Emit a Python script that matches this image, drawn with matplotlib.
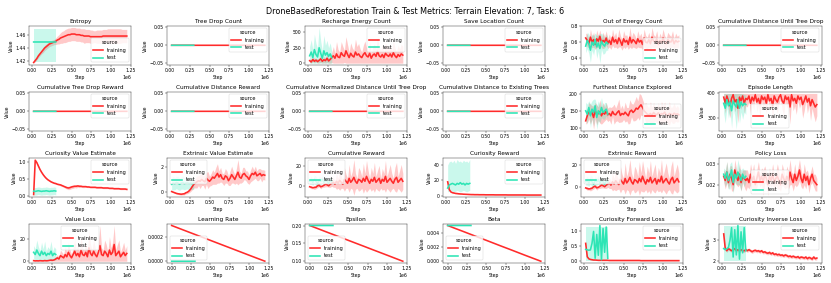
import numpy as np
import matplotlib
matplotlib.use("Agg")
import matplotlib.pyplot as plt

# logging steps
TRAIN_STEPS = np.arange(1, 61) * 20000
TEST_STEPS = np.arange(1, 16) * 20000
SCHED_TRAIN_STEPS = np.arange(0, 13) * 100000
SCHED_TEST_STEPS = np.arange(0, 4) * 100000

TRAIN_COLOR = "#ff2b2b"
TEST_COLOR = "#2ee5b5"

zero_train = [0.0] * 60
zero_test = [0.0] * 15

# Entropy
entropy_train = [1.418, 1.421, 1.424, 1.428, 1.431, 1.434, 1.437, 1.440, 1.442, 1.444,
                 1.446, 1.447, 1.448, 1.449, 1.450, 1.452, 1.453, 1.455, 1.456, 1.457,
                 1.458, 1.459, 1.460, 1.460, 1.461, 1.461, 1.461, 1.460, 1.460, 1.460,
                 1.459, 1.459, 1.458, 1.458, 1.458, 1.458, 1.457, 1.457, 1.457, 1.457,
                 1.457, 1.457, 1.457, 1.457, 1.458, 1.458, 1.458, 1.458, 1.458, 1.458,
                 1.458, 1.458, 1.458, 1.458, 1.458, 1.458, 1.458, 1.458, 1.458, 1.458]
entropy_train_sd = [0.001, 0.002, 0.002, 0.003, 0.003, 0.003, 0.004, 0.004, 0.004, 0.004,
                    0.004, 0.004, 0.004, 0.004, 0.005, 0.006, 0.007, 0.008, 0.009, 0.009,
                    0.010, 0.010, 0.010, 0.010, 0.010, 0.010, 0.010, 0.010, 0.010, 0.010,
                    0.010, 0.010, 0.011, 0.010, 0.010, 0.010, 0.010, 0.010, 0.009, 0.009,
                    0.010, 0.010, 0.010, 0.010, 0.010, 0.010, 0.010, 0.011, 0.011, 0.011,
                    0.011, 0.011, 0.011, 0.011, 0.011, 0.011, 0.010, 0.010, 0.010, 0.010]
entropy_test = [1.449] * 15
entropy_test_lo = [1.419] * 15
entropy_test_hi = [1.4685] * 15

# Recharge Energy Count
recharge_train = [40, 20, 60, 30, 50, 25, 45, 70, 30, 55, 40, 80, 35, 60, 90,
                  120, 80, 150, 100, 90, 170, 130, 110, 200, 140, 90, 160, 120, 100, 180,
                  130, 150, 110, 90, 140, 170, 120, 100, 160, 80, 130, 150, 110, 190, 120,
                  100, 140, 90, 160, 130, 110, 150, 100, 170, 120, 90, 140, 110, 150, 130]
recharge_train_sd = [30, 40, 35, 50, 30, 45, 40, 60, 35, 50, 40, 70, 45, 60, 80,
                     150, 80, 200, 120, 90, 180, 140, 100, 230, 160, 90, 170, 130, 110, 210,
                     140, 170, 120, 90, 150, 190, 130, 100, 180, 80, 140, 160, 120, 220, 130,
                     110, 150, 90, 170, 140, 120, 160, 100, 190, 130, 90, 150, 120, 160, 140]
recharge_test = [120, 180, 90, 220, 140, 100, 250, 160, 80, 200, 130, 170, 110, 150, 90]
recharge_test_sd = [150, 200, 120, 250, 180, 140, 330, 200, 120, 250, 160, 200, 140, 180, 100]

# Out of Energy Count
ooe_train = [0.65, 0.62, 0.58, 0.66, 0.60, 0.63, 0.57, 0.64, 0.61, 0.67, 0.59, 0.62, 0.60, 0.65, 0.58,
             0.62, 0.57, 0.66, 0.60, 0.63, 0.58, 0.65, 0.61, 0.56, 0.64, 0.60, 0.62, 0.57, 0.66, 0.59,
             0.63, 0.61, 0.58, 0.64, 0.60, 0.62, 0.57, 0.65, 0.60, 0.59, 0.63, 0.58, 0.66, 0.61, 0.60,
             0.64, 0.57, 0.62, 0.59, 0.65, 0.60, 0.58, 0.63, 0.61, 0.60, 0.64, 0.58, 0.62, 0.60, 0.61]
ooe_train_sd = [0.06, 0.08, 0.05, 0.10, 0.07, 0.09, 0.06, 0.11, 0.07, 0.08, 0.06, 0.10, 0.07, 0.09, 0.06,
                0.08, 0.06, 0.10, 0.07, 0.09, 0.06, 0.11, 0.07, 0.06, 0.10, 0.08, 0.07, 0.06, 0.12, 0.07,
                0.09, 0.08, 0.06, 0.10, 0.07, 0.09, 0.06, 0.11, 0.08, 0.07, 0.09, 0.06, 0.12, 0.08, 0.07,
                0.10, 0.06, 0.09, 0.07, 0.11, 0.08, 0.06, 0.09, 0.08, 0.07, 0.10, 0.06, 0.09, 0.07, 0.08]
ooe_test = [0.55, 0.62, 0.58, 0.50, 0.60, 0.56, 0.63, 0.54, 0.59, 0.52, 0.61, 0.57, 0.55, 0.60, 0.58]
ooe_test_sd = [0.08, 0.10, 0.12, 0.15, 0.10, 0.12, 0.08, 0.14, 0.10, 0.18, 0.10, 0.12, 0.09, 0.10, 0.08]

# Furthest Distance Explored
furthest_train = [120, 135, 150, 140, 145, 130, 150, 138, 142, 148, 135, 145, 140, 150, 138,
                  142, 135, 148, 140, 138, 145, 150, 136, 142, 139, 146, 140, 135, 148, 152,
                  145, 150, 158, 155, 162, 168, 160, 150, 145, 140, 138, 142, 136, 145, 140,
                  138, 144, 136, 142, 140, 146, 138, 135, 142, 140, 137, 143, 139, 141, 138]
furthest_train_sd = [10, 20, 25, 30, 20, 35, 25, 30, 20, 35, 25, 30, 20, 25, 20,
                     20, 25, 15, 30, 20, 25, 35, 20, 25, 15, 30, 20, 25, 35, 20,
                     25, 30, 35, 25, 40, 30, 25, 20, 30, 25, 20, 35, 25, 30, 20,
                     25, 30, 20, 35, 25, 30, 20, 25, 35, 20, 25, 30, 20, 25, 20]
furthest_test = [150, 140, 160, 135, 155, 145, 165, 130, 150, 140, 160, 145, 150, 155, 140]
furthest_test_sd = [25, 30, 20, 35, 25, 40, 20, 35, 30, 25, 30, 20, 25, 20, 15]

# Episode Length
eplen_train = [385, 360, 390, 370, 350, 380, 395, 365, 375, 340, 385, 370, 390, 360, 380,
               375, 390, 360, 385, 370, 395, 365, 380, 355, 390, 375, 385, 360, 395, 370,
               380, 350, 390, 375, 365, 385, 395, 370, 360, 390, 375, 385, 345, 395, 370,
               380, 360, 390, 375, 385, 355, 370, 390, 365, 380, 350, 375, 360, 345, 355]
eplen_train_sd = [30, 40, 20, 35, 50, 30, 20, 40, 30, 60, 25, 35, 20, 40, 30,
                  30, 20, 45, 25, 35, 15, 40, 30, 50, 20, 35, 25, 45, 15, 35,
                  30, 60, 20, 35, 45, 25, 20, 35, 50, 20, 35, 25, 70, 15, 40,
                  30, 45, 20, 35, 25, 55, 40, 20, 45, 30, 60, 35, 50, 60, 45]
eplen_test = [360, 340, 375, 350, 365, 330, 370, 355, 345, 375, 340, 365, 350, 360, 355]
eplen_test_sd = [40, 60, 30, 50, 35, 70, 30, 45, 90, 30, 60, 40, 55, 35, 40]

# Curiosity Value Estimate
cve_train = [0.05, 1.05, 0.98, 0.88, 0.78, 0.70, 0.63, 0.57, 0.52, 0.48, 0.45, 0.42, 0.40, 0.38, 0.37,
             0.35, 0.34, 0.33, 0.31, 0.29, 0.27, 0.25, 0.24, 0.25, 0.27,
             0.28, 0.29, 0.29, 0.30, 0.29, 0.29, 0.28, 0.28, 0.28, 0.27,
             0.27, 0.26, 0.26, 0.26, 0.26, 0.25, 0.25, 0.25, 0.25, 0.24,
             0.24, 0.24, 0.24, 0.23, 0.23, 0.23, 0.22, 0.22, 0.22, 0.22,
             0.21, 0.21, 0.21, 0.21, 0.20]
cve_train_sd = [0.02] * 15 + [0.02, 0.02, 0.03, 0.03, 0.03, 0.04, 0.04, 0.05, 0.05, 0.05,
                              0.05, 0.04, 0.05, 0.04, 0.04, 0.03, 0.03, 0.03, 0.02, 0.02] + [0.02] * 25
cve_test = [0.15, 0.14, 0.15, 0.16, 0.15, 0.14, 0.15, 0.15, 0.16, 0.15, 0.14, 0.15, 0.15, 0.16, 0.15]
cve_test_sd = [0.11] * 15

# Extrinsic Value Estimate
eve_train = [0.0, -0.05, -0.1, -0.15, -0.18, -0.2, -0.22, -0.2, -0.18, -0.1, -0.05, 0.05, 0.2, 0.4, 0.6,
             0.7, 0.8, 0.9, 0.85, 1.0, 0.9, 0.8, 1.1, 0.95, 0.85, 1.0, 1.2, 1.1, 1.3, 1.5,
             1.2, 1.4, 1.1, 1.0, 1.3, 1.2, 0.9, 1.1, 1.4, 1.2, 1.0, 1.3, 1.6, 1.2, 1.1,
             1.4, 1.5, 1.3, 1.2, 1.0, 1.3, 1.5, 1.4, 1.6, 1.3, 1.4, 1.5, 1.3, 1.4, 1.35]
eve_train_sd = [0.05, 0.05, 0.06, 0.06, 0.07, 0.08, 0.08, 0.08, 0.1, 0.1, 0.12, 0.15, 0.2, 0.25, 0.3,
                0.4, 0.5, 0.4, 0.6, 0.5, 0.4, 0.6, 0.5, 0.7, 0.4, 0.5, 0.6, 0.5, 0.7, 0.8,
                0.5, 0.6, 0.4, 0.5, 0.6, 0.5, 0.4, 0.6, 0.7, 0.5, 0.4, 0.6, 1.05, 0.5, 0.4,
                0.6, 0.5, 0.4, 0.5, 0.4, 0.5, 0.6, 0.4, 0.5, 0.4, 0.5, 0.4, 0.5, 0.4, 0.4]
eve_test = [0.6, 0.7, 0.65, 0.75, 0.7, 0.6, 0.7, 0.75, 0.65, 0.7, 0.72, 0.68, 0.7, 0.65, 0.7]
eve_test_sd = [0.5, 0.55, 0.5, 0.5, 0.55, 0.5, 0.5, 0.55, 0.5, 0.5, 0.5, 0.55, 0.5, 0.5, 0.5]

# Cumulative Reward
cumrew_train = [-0.5, -1, -1.5, -1.2, -1, 0.5, 1, -0.5, 0, 1, 2, 1.5, 0.5, 2, 3,
                4, 2, 5, 3, 6, 4, 2, 7, 5, 3, 8, 4, 6, 9, 5,
                3, 7, 6, 4, 8, 5, 10, 6, 3, 7, 5, 9, 4, 6, 8,
                3, 7, 5, 10, 4, 6, 8, 5, 3, 7, 9, 4, 6, 8, 5]
cumrew_train_sd = [1, 1.5, 1, 2, 1.5, 2, 1.5, 2, 1, 2, 2.5, 2, 1.5, 3, 3,
                   5, 3, 8, 5, 10, 6, 4, 12, 7, 5, 14, 6, 9, 18, 8,
                   5, 12, 10, 6, 15, 8, 16, 10, 5, 12, 8, 15, 6, 10, 13,
                   5, 11, 8, 16, 6, 10, 14, 8, 5, 12, 15, 6, 10, 14, 8]
cumrew_test = [5, 6, 4, 7, 5, 3, 6, 5, 7, 4, 6, 5, 3, 6, 5]
cumrew_test_sd = [3, 4, 3, 4, 5, 3, 4, 3, 4, 3, 4, 3, 3, 4, 3]

# Curiosity Reward
currew_train = [18, 8, 5, 4, 3.5, 3, 2.8, 2.5, 2.3, 2.2, 2, 1.9, 1.8, 1.7, 1.6,
                1.5, 1.5, 1.4, 1.4, 1.4, 1.3, 1.3, 1.3, 1.3, 1.2,
                1.2, 1.2, 1.2, 1.2, 1.2, 1.1, 1.1, 1.1, 1.1, 1.1,
                1.1, 1.1, 1.1, 1.0, 1.0, 1.0, 1.0, 1.0, 1.0, 1.0,
                1.0, 1.0, 1.0, 1.0, 1.0, 0.9, 0.9, 0.9, 0.9, 0.9,
                0.9, 0.9, 0.9, 0.9, 0.9]
currew_train_sd = [1.5, 1, 0.8, 0.6, 0.5, 0.4, 0.4, 0.3, 0.3, 0.3, 0.3, 0.3, 0.2, 0.2, 0.2] + [0.2] * 45
currew_test = [10, 14, 15, 16, 15, 14, 16, 15, 17, 15, 16, 14, 16, 15, 16]
currew_test_lo = [5, 6, 7, 6, 5, 6, 7, 6, 5, 6, 7, 6, 5, 6, 7]
currew_test_hi = [40, 44, 45, 43, 46, 42, 47, 44, 45, 43, 46, 44, 45, 43, 47]

# Extrinsic Reward
extrew_train = [-0.5, -1, -1.4, -1.2, -0.8, 0.5, 1, -0.4, 0, 1, 2, 1.5, 0.6, 2, 3,
                4, 2, 5, 3, 6, 4, 2.5, 7, 5, 3, 8, 4, 6, 9, 5,
                3, 7, 6, 4, 8, 5, 10, 6, 3, 7, 5, 9, 4, 6, 8,
                3, 7, 5, 10, 4, 6, 8, 5, 3, 7, 9, 4, 6, 8, 5]
extrew_train_sd = [1, 1.5, 1, 2, 1.5, 2, 1.5, 2, 1, 2, 2.5, 2, 1.5, 3, 3,
                   5, 3, 8, 5, 9, 6, 4, 12, 7, 5, 14, 6, 9, 16, 8,
                   5, 12, 10, 6, 15, 8, 14, 10, 5, 12, 8, 15, 6, 10, 13,
                   5, 11, 8, 15, 6, 10, 14, 8, 5, 12, 15, 6, 10, 13, 8]
extrew_test = [5, 6, 4, 7, 5, 3, 6, 5, 7, 4, 6, 5, 3, 6, 5]
extrew_test_sd = [3, 4, 3, 4, 5, 3, 4, 3, 4, 3, 4, 3, 3, 4, 3]

# Policy Loss
policy_train = [0.024, 0.022, 0.026, 0.021, 0.025, 0.023, 0.020, 0.027, 0.024, 0.022, 0.025, 0.021, 0.024, 0.023, 0.022,
                0.023, 0.021, 0.025, 0.022, 0.024, 0.020, 0.023, 0.026, 0.022, 0.024, 0.021, 0.025, 0.023, 0.020, 0.024,
                0.022, 0.025, 0.021, 0.023, 0.024, 0.022, 0.020, 0.025, 0.023, 0.021, 0.024, 0.022, 0.026, 0.023, 0.021,
                0.025, 0.022, 0.024, 0.027, 0.023, 0.021, 0.025, 0.022, 0.024, 0.020, 0.023, 0.025, 0.022, 0.021, 0.020]
policy_train_sd = [0.003, 0.004, 0.005, 0.003, 0.004, 0.006, 0.003, 0.005, 0.004, 0.003, 0.005, 0.004, 0.003, 0.004, 0.005,
                   0.004, 0.003, 0.005, 0.004, 0.006, 0.003, 0.004, 0.005, 0.003, 0.004, 0.006, 0.004, 0.003, 0.005, 0.004,
                   0.003, 0.005, 0.004, 0.003, 0.006, 0.004, 0.003, 0.005, 0.004, 0.003, 0.005, 0.004, 0.006, 0.003, 0.004,
                   0.005, 0.003, 0.004, 0.005, 0.004, 0.003, 0.005, 0.004, 0.003, 0.004, 0.003, 0.004, 0.003, 0.004, 0.003]
policy_test = [0.025, 0.023, 0.026, 0.022, 0.024, 0.027, 0.021, 0.025, 0.023, 0.026, 0.024, 0.022, 0.025, 0.023, 0.024]
policy_test_sd = [0.003, 0.004, 0.005, 0.004, 0.006, 0.004, 0.005, 0.004, 0.003, 0.006, 0.004, 0.005, 0.003, 0.004, 0.003]

# Value Loss
vloss_train = [0.5, 0.3, 0.4, 0.3, 0.5, 0.4, 0.3, 0.6, 0.4, 0.5, 0.8, 1.0, 0.8, 1.2, 2.0,
               3, 2, 5, 4, 3, 6, 4, 8, 5, 3, 6, 9, 5, 7, 4,
               10, 6, 5, 8, 4, 12, 7, 5, 9, 6, 4, 8, 14, 6, 5,
               9, 7, 4, 10, 6, 8, 15, 5, 7, 9, 4, 6, 8, 5, 7]
vloss_train_sd = [0.3, 0.3, 0.4, 0.3, 0.4, 0.5, 0.4, 0.6, 0.5, 0.6, 0.8, 1, 1, 1.5, 2,
                  3, 2, 5, 4, 3, 7, 4, 9, 5, 3, 6, 10, 5, 8, 4,
                  12, 6, 5, 9, 4, 15, 8, 5, 10, 6, 4, 9, 18, 6, 5,
                  10, 8, 4, 12, 6, 9, 17, 5, 8, 10, 4, 6, 9, 5, 7]
vloss_test = [8, 6, 10, 7, 5, 9, 6, 8, 5, 7, 6, 9, 5, 7, 6]
vloss_test_sd = [6, 5, 9, 6, 4, 8, 5, 10, 4, 6, 5, 9, 4, 6, 5]

# schedules
lr_train = [0.0003, 0.000275, 0.00025, 0.000225, 0.0002, 0.000175, 0.00015,
            0.000125, 0.0001, 0.000075, 0.00005, 0.000025, 0.0000005]
lr_test = [0.0, 0.0, 0.0, 0.0]
eps_train = [0.2, 0.1917, 0.1833, 0.175, 0.1667, 0.1583, 0.15, 0.1417, 0.1333, 0.125, 0.1167, 0.1083, 0.1]
eps_test = [0.2, 0.2, 0.2, 0.2]
beta_train = [0.005, 0.00458, 0.00417, 0.00375, 0.00333, 0.00292, 0.0025,
              0.00208, 0.00167, 0.00125, 0.00083, 0.00042, 0.00001]
beta_test = [0.005, 0.005, 0.005, 0.005]

# Curiosity Forward Loss
cfl_train = [0.6, 0.15, 0.08, 0.06, 0.05, 0.04, 0.04, 0.035, 0.03, 0.03, 0.03, 0.03, 0.03, 0.03, 0.03] + [0.025] * 20 + [0.02] * 25
cfl_train_sd = [0.05, 0.03] + [0.01] * 58
cfl_test = [0.4, 0.38, 0.37, 0.38, 0.6, 1.0, 0.1, 0.9, 0.2, 1.2, 0.05, 1.1, 0.3, 1.15, 0.1]
cfl_test_lo = [0.0] * 15
cfl_test_hi = [1.15] * 15

# Curiosity Inverse Loss
cil_train = [3.3, 2.6, 2.5, 2.6, 2.55, 2.5, 2.55, 2.6, 2.5, 2.55, 2.5, 2.55, 2.5, 2.5, 2.55,
             2.5, 2.55, 2.5, 2.45, 2.5, 2.52, 2.48, 2.5, 2.45, 2.5, 2.42, 2.45, 2.4, 2.38, 2.42,
             2.35, 2.4, 2.32, 2.35, 2.3, 2.33, 2.28, 2.3, 2.25, 2.3, 2.27, 2.22, 2.25, 2.2, 2.24,
             2.2, 2.18, 2.22, 2.15, 2.2, 2.18, 2.15, 2.2, 2.12, 2.18, 2.15, 2.1, 2.2, 2.12, 2.15]
cil_train_sd = [0.3, 0.1] + [0.08] * 58
cil_test = [2.6, 2.55, 2.6, 2.65, 3.0, 3.6, 2.2, 3.5, 2.3, 3.7, 2.1, 3.4, 2.4, 3.6, 2.5]
cil_test_lo = [2.0] * 15
cil_test_hi = [3.7] * 15


def band(values, spread):
    values = np.asarray(values, dtype=float)
    if spread is None:
        return None
    if isinstance(spread, tuple):
        return np.asarray(spread[0], dtype=float), np.asarray(spread[1], dtype=float)
    spread = np.asarray(spread, dtype=float)
    return values - spread, values + spread


def draw(ax, title, train, test, train_sd=None, test_sd=None, loc="upper right",
         train_x=TRAIN_STEPS, test_x=TEST_STEPS, clip=None):
    for x, y, sd, c, lab in [(train_x, train, train_sd, TRAIN_COLOR, "training"),
                             (test_x, test, test_sd, TEST_COLOR, "test")]:
        ax.plot(x, y, color=c, lw=3.5, label=lab, snap=False)
        b = band(y, sd)
        if b is not None:
            lo, hi = b
            if clip is not None:
                lo = np.clip(lo, clip[0], clip[1])
                hi = np.clip(hi, clip[0], clip[1])
            ax.fill_between(x, lo, hi, color=c, alpha=0.25, lw=0)
    ax.set_title(title, fontsize=12.5)
    ax.set_xlabel("Step")
    ax.set_ylabel("Value")
    ax.set_xticks([0, 250000, 500000, 750000, 1000000, 1250000])
    ax.locator_params(axis="y", nbins=3)
    ax.legend(title="source", loc=loc, fontsize=11, title_fontsize=11)


fig, axes = plt.subplots(4, 6, figsize=(831 / 33, 283 / 33), dpi=33)
a = axes.flatten()

draw(a[0], "Entropy", entropy_train, entropy_test, entropy_train_sd, (entropy_test_lo, entropy_test_hi),
     loc="lower right")
draw(a[1], "Tree Drop Count", zero_train, zero_test)
draw(a[2], "Recharge Energy Count", recharge_train, recharge_test, recharge_train_sd, recharge_test_sd,
     clip=(0, 1000))
draw(a[3], "Save Location Count", zero_train, zero_test)
draw(a[4], "Out of Energy Count", ooe_train, ooe_test, ooe_train_sd, ooe_test_sd, loc="lower right")
draw(a[5], "Cumulative Distance Until Tree Drop", zero_train, zero_test)

draw(a[6], "Cumulative Tree Drop Reward", zero_train, zero_test)
draw(a[7], "Cumulative Distance Reward", zero_train, zero_test)
draw(a[8], "Cumulative Normalized Distance Until Tree Drop", zero_train, zero_test)
draw(a[9], "Cumulative Distance to Existing Trees", zero_train, zero_test)
draw(a[10], "Furthest Distance Explored", furthest_train, furthest_test, furthest_train_sd, furthest_test_sd,
     loc="lower right")
draw(a[11], "Episode Length", eplen_train, eplen_test, eplen_train_sd, eplen_test_sd, loc="lower center",
     clip=(0, 400))

draw(a[12], "Curiosity Value Estimate", cve_train, cve_test, cve_train_sd, cve_test_sd)
draw(a[13], "Extrinsic Value Estimate", eve_train, eve_test, eve_train_sd, eve_test_sd, loc="upper left")
draw(a[14], "Cumulative Reward", cumrew_train, cumrew_test, cumrew_train_sd, cumrew_test_sd, loc="upper left")
draw(a[15], "Curiosity Reward", currew_train, currew_test, currew_train_sd, (currew_test_lo, currew_test_hi))
draw(a[16], "Extrinsic Reward", extrew_train, extrew_test, extrew_train_sd, extrew_test_sd, loc="upper left")
draw(a[17], "Policy Loss", policy_train, policy_test, policy_train_sd, policy_test_sd, loc="lower center")

draw(a[18], "Value Loss", vloss_train, vloss_test, vloss_train_sd, vloss_test_sd, loc="upper center",
     clip=(0, 100))
draw(a[19], "Learning Rate", lr_train, lr_test, loc="lower left",
     train_x=SCHED_TRAIN_STEPS, test_x=SCHED_TEST_STEPS)
draw(a[20], "Epsilon", eps_train, eps_test, loc="lower left",
     train_x=SCHED_TRAIN_STEPS, test_x=SCHED_TEST_STEPS)
draw(a[21], "Beta", beta_train, beta_test, loc="lower left",
     train_x=SCHED_TRAIN_STEPS, test_x=SCHED_TEST_STEPS)
draw(a[22], "Curiosity Forward Loss", cfl_train, cfl_test, cfl_train_sd, (cfl_test_lo, cfl_test_hi))
draw(a[23], "Curiosity Inverse Loss", cil_train, cil_test, cil_train_sd, (cil_test_lo, cil_test_hi))

fig.suptitle("DroneBasedReforestation Train & Test Metrics: Terrain Elevation: 7, Task: 6",
             fontsize=17.5, y=0.975)
fig.tight_layout()
fig.savefig("out.png", dpi=33)
